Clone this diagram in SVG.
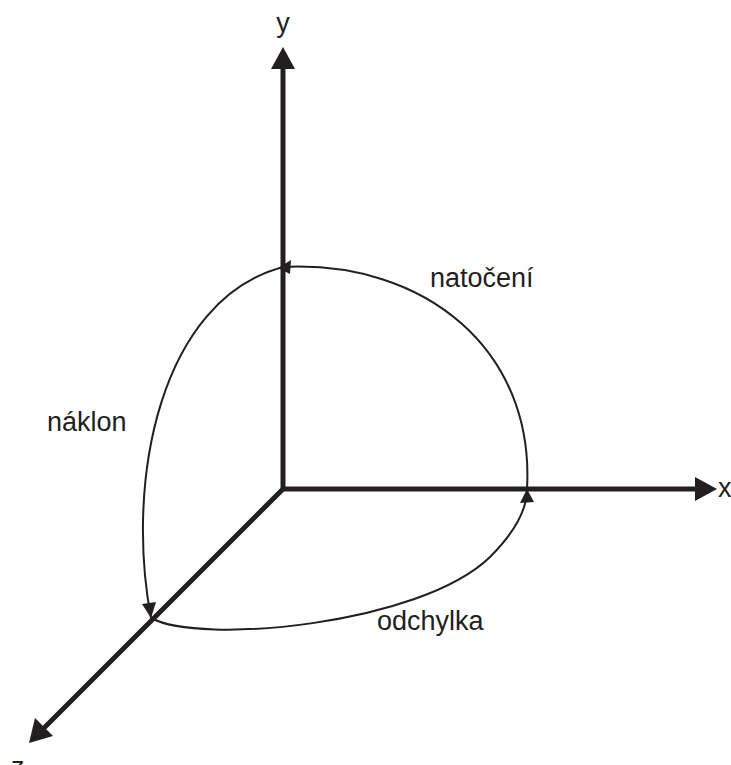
<svg xmlns="http://www.w3.org/2000/svg" width="731" height="765" viewBox="0 0 731 765">
<style>
.axis{fill:none;stroke:#231f20;stroke-width:5;stroke-linejoin:miter}
.curve{fill:none;stroke:#231f20;stroke-width:2}
.head{fill:#231f20;stroke:none}
.lbl{font-family:"Liberation Sans",Arial,sans-serif;font-size:27px;fill:#231f20}
</style>
<rect width="731" height="765" fill="#ffffff"/>
<g id="connectors">
<path class="axis" d="M283 68 V489 H696"/>
<path class="axis" d="M283 489 L43 729"/>
<polygon class="head" points="283,47 271,69 295,69"/>
<polygon class="head" points="717,489 695,477 695,501"/>
<polygon class="head" points="29,743 35,718 53,736"/>
<path class="curve" d="M283 267 C425 260 535 350 527 489"/>
<path class="curve" d="M283 267 C160 300 125 480 151 618"/>
<path class="curve" d="M151 618 C200 645 420 625 490 557 C515 532 527 510 527 489"/>
<polygon class="head" points="278,268 291,260 290,274"/>
<polygon class="head" points="527,489 520,503 534,502"/>
<polygon class="head" points="151,618 142,604 156,602"/>
</g>
<g id="label-y"><text class="lbl" x="283" y="32" text-anchor="middle">y</text></g>
<g id="label-x"><text class="lbl" x="718" y="497" font-size="25">x</text></g>
<g id="label-z"><text class="lbl" x="11" y="776">z</text></g>
<g id="label-natoceni"><text class="lbl" x="430" y="287">natočení</text></g>
<g id="label-naklon"><text class="lbl" x="47" y="431">náklon</text></g>
<g id="label-odchylka"><text class="lbl" x="377" y="630">odchylka</text></g>
</svg>
